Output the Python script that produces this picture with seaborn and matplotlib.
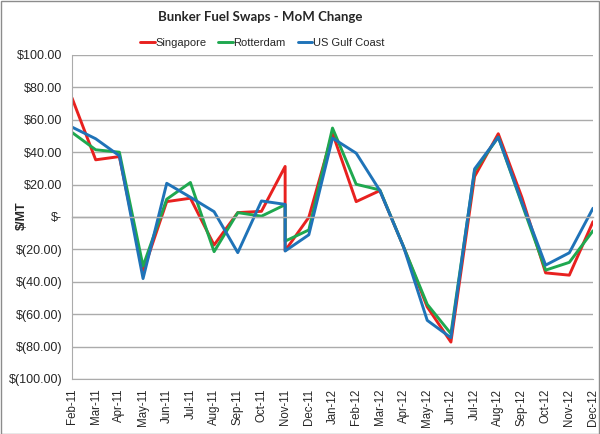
import matplotlib
matplotlib.use("Agg")
import matplotlib.pyplot as plt
import matplotlib.patches as mpatches
import seaborn as sns
import pandas as pd

# ---- data ----
month_labels = ["Feb-11", "Mar-11", "Apr-11", "May-11", "Jun-11", "Jul-11", "Aug-11",
                "Sep-11", "Oct-11", "Nov-11", "Dec-11", "Jan-12", "Feb-12", "Mar-12",
                "Apr-12", "May-12", "Jun-12", "Jul-12", "Aug-12", "Sep-12", "Oct-12",
                "Nov-12", "Dec-12"]
point_months = ["Feb-11", "Mar-11", "Apr-11", "May-11", "Jun-11", "Jul-11", "Aug-11",
                "Sep-11", "Oct-11", "Nov-11", "Nov-11", "Dec-11", "Jan-12", "Feb-12",
                "Mar-12", "Apr-12", "May-12", "Jun-12", "Jul-12", "Aug-12", "Sep-12",
                "Oct-12", "Nov-12", "Dec-12"]
singapore = [73.5, 35.3, 37.3, -33.8, 9.5, 11.6, -17.3, 2.7, 3.5, 31.2, -20.8, -0.2,
             51.8, 9.5, 16.3, -18.4, -55.5, -77.2, 25.0, 51.4, 12.0, -34.5, -35.9, -2.9]
rotterdam = [52.2, 41.5, 40.0, -30.3, 11.0, 21.3, -21.4, 2.7, 0.5, 7.6, -14.9, -8.0,
             54.9, 20.2, 16.7, -18.4, -53.9, -72.0, 28.5, 49.3, 8.0, -32.8, -28.0, -8.5]
us_gulf = [55.5, 48.3, 37.8, -38.0, 20.8, 12.2, 3.3, -22.0, 9.9, 7.8, -21.0, -11.0,
           48.7, 39.4, 16.3, -18.4, -63.8, -74.5, 29.7, 49.3, 9.0, -29.7, -22.1, 5.4]
series_names = ["Singapore", "Rotterdam", "US Gulf Coast"]
y_ticks = [100, 80, 60, 40, 20, 0, -20, -40, -60, -80, -100]

# ---- build long table ----
pos = {m: i for i, m in enumerate(month_labels)}
rows = []
for name, vals in zip(series_names, [singapore, rotterdam, us_gulf]):
    for order, (m, v) in enumerate(zip(point_months, vals)):
        rows.append({"x": pos[m], "value": v, "series": name, "order": order})
df = pd.DataFrame(rows)

sns.set_style("white")
plt.rcParams["font.family"] = ["Liberation Sans", "DejaVu Sans"]

fig = plt.figure(figsize=(6.0, 4.34), dpi=100)
ax = fig.add_axes([72 / 600, 55 / 434, (593 - 72) / 600, (379 - 55) / 434])

palette = {"Singapore": "#E8211F", "Rotterdam": "#1FA84F", "US Gulf Coast": "#1F73B8"}
sns.lineplot(data=df, x="x", y="value", hue="series", palette=palette,
             estimator=None, sort=False, linewidth=2.1, ax=ax, legend=True)

grid_c = "#ABABAB"
ax.set_ylim(-100, 100)
ax.set_xlim(0, len(month_labels) - 1)
ax.set_yticks(y_ticks)

def fmt(v):
    if v == 0:
        return "$-"
    if v < 0:
        return "$(%.2f)" % abs(v)
    return "$%.2f" % v

ax.set_yticklabels([fmt(v) for v in y_ticks], fontsize=9)
ax.yaxis.grid(True, color=grid_c, linewidth=1.0)
ax.set_axisbelow(True)

for s in ["top", "right"]:
    ax.spines[s].set_visible(False)
ax.spines["left"].set_color(grid_c)
ax.spines["bottom"].set_position(("data", 0))
ax.spines["bottom"].set_color(grid_c)
ax.spines["bottom"].set_linewidth(1.0)
ax.set_xticks(range(len(month_labels)))
ax.tick_params(axis="x", direction="out", length=4, color=grid_c, labelbottom=False)
ax.tick_params(axis="y", direction="out", length=4, color=grid_c, pad=3)

sec = ax.secondary_xaxis("bottom")
sec.set_xticks(range(len(month_labels)))
sec.set_xticklabels(month_labels, rotation=90, fontsize=8.3)
sec.tick_params(length=0, pad=7)
sec.spines["bottom"].set_color(grid_c)

ax.set_xlabel("")
ax.set_ylabel("$/MT", fontsize=9, fontweight="bold")
ax.yaxis.set_label_coords((28 - 72) / 521, 0.503)

ax.legend(loc="center", bbox_to_anchor=(0.365, 1 + 12 / 324), ncol=3, frameon=False,
          fontsize=8, handlelength=1.3, handletextpad=0.05, columnspacing=1.1,
          borderaxespad=0.0)

fig.text(260 / 600, 1 - 17 / 434, "Bunker Fuel Swaps - MoM Change", ha="center", va="center",
         fontsize=9.5, fontweight="bold", family=["Lato", "DejaVu Sans"])

fig.patches.append(mpatches.Rectangle((0.001, 0.001), 0.997, 0.997, transform=fig.transFigure,
                                      fill=False, edgecolor="#8C8C8C", linewidth=1.0))

fig.savefig("out.png", dpi=100)
